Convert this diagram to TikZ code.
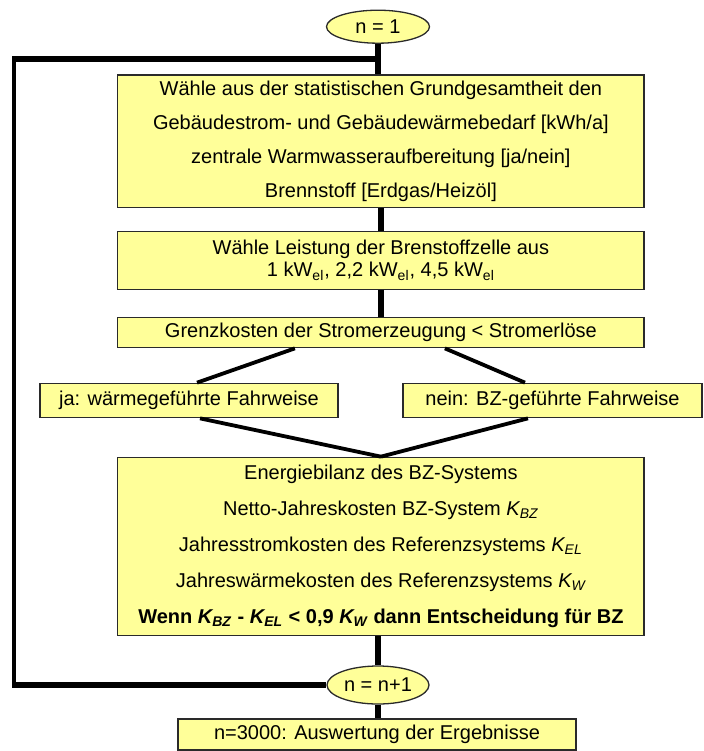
\documentclass[tikz,border=0pt]{standalone}
\usepackage{fontspec}
\setmainfont{Liberation Sans}
\usetikzlibrary{shapes.geometric,calc}
\definecolor{boxfill}{HTML}{FFFF99}
\definecolor{boxdraw}{HTML}{2A2A2A}
\begin{document}
\begin{tikzpicture}[x=0.5pt,y=-0.5pt,
  box/.style={draw=boxdraw,line width=0.65pt,fill=boxfill,inner sep=0pt,align=center,font=\fontsize{10}{17}\selectfont},
  oval/.style={ellipse,draw=boxdraw,line width=0.65pt,fill=boxfill,inner sep=0pt,font=\fontsize{10}{12}\selectfont},
  conn/.style={line width=2.7pt},
  diag/.style={line width=1.9pt},
  loopH/.style={line width=3.3pt},
  loopV/.style={line width=1.9pt}]
\useasboundingbox (0,0) rectangle (703,751);

\node[oval,minimum width=51.5pt,minimum height=16.5pt] (e1) at (378,26.7) {n = 1};
\node[box,minimum width=263.2pt,minimum height=66.35pt] (b1) at (380.9,141.35)
  {Wähle aus der statistischen Grundgesamtheit den\\Gebäudestrom- und Gebäudewärmebedarf [kWh/a]\\zentrale Warmwasseraufbereitung [ja/nein]\\Brennstoff [Erdgas/Heizöl]};
\node[box,minimum width=263.2pt,minimum height=29pt,font=\fontsize{10}{11}\selectfont] (b2) at (380.9,260.25)
  {Wähle Leistung der Brenstoffzelle aus\\1 kW\textsubscript{el}, 2,2 kW\textsubscript{el}, 4,5 kW\textsubscript{el}};
\node[box,minimum width=263.2pt,minimum height=15pt] (b3) at (380.9,332.7)
  {Grenzkosten der Stromerzeugung < Stromerlöse};
\node[box,minimum width=149pt,minimum height=17.2pt] (l) at (189,400.5)
  {ja: wärmegeführte Fahrweise};
\node[box,minimum width=149.5pt,minimum height=17.2pt] (r) at (552.5,400.5)
  {nein: BZ-geführte Fahrweise};
\node[box,minimum width=263.2pt,minimum height=89.2pt,font=\fontsize{10}{18}\selectfont] (b4) at (380.9,546.5)
  {Energiebilanz des BZ-Systems\\
   Netto-Jahreskosten BZ-System \textit{K\textsubscript{BZ}}\\
   Jahresstromkosten des Referenzsystems \textit{K\textsubscript{EL}}\\
   Jahreswärmekosten des Referenzsystems \textit{K\textsubscript{W}}\\
   \textbf{Wenn \textit{K\textsubscript{BZ}} - \textit{K\textsubscript{EL}} < 0,9 \textit{K\textsubscript{W}} dann Entscheidung für BZ}};
\node[oval,minimum width=51pt,minimum height=19pt] (e2) at (378,685) {n = n+1};
\node[box,minimum width=199pt,minimum height=15.5pt] (b5) at (377,734.5)
  {n=3000: Auswertung der Ergebnisse};

% vertical connectors
\draw[conn] (e1.south) -- (e1.south |- b1.north);
\draw[conn] (b1.south) -- (b2.north);
\draw[conn] (b2.south) -- (b3.north);
\draw[conn] (b4.south -| e2.north) -- (e2.north);
\draw[conn] (e2.south) -- (e2.south |- b5.north);

% diagonals
\draw[diag] ($(b3.south)+(-86,0)$) -- ($(l.north)+(8,0)$);
\draw[diag] ($(b3.south)+(64,0)$) -- ($(r.north)+(-27.5,0)$);
\draw[diag] ($(l.south)+(11,0)$) -- (b4.north);
\draw[diag] ($(r.south)+(-24.5,0)$) -- (b4.north);

% loop back
\coordinate (j1) at ($(e1.south)!0.5!(e1.south |- b1.north)$);
\coordinate (tl) at (12,58.9);
\coordinate (tv) at (14,57.5);
\coordinate (bv) at (14,686.5);
\coordinate (bl) at (12,685);
\draw[loopH] (tl) -- (tl -| j1);
\draw[loopV] (tv) -- (bv);
\draw[loopH] (bl) -- (e2.west);
\end{tikzpicture}
\end{document}
